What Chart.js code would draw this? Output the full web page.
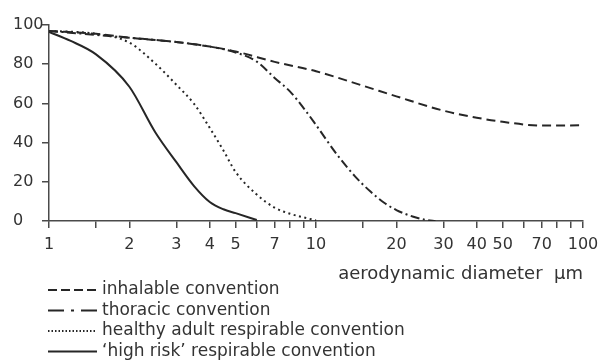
<!DOCTYPE html>
<html>
<head>
<meta charset="utf-8">
<script src="https://cdn.jsdelivr.net/npm/chart.js@4.4.1/dist/chart.umd.min.js"></script>
<style>
  html, body { margin: 0; padding: 0; background: #fff; }
</style>
</head>
<body>
<canvas id="sizeChart" width="598" height="361"></canvas>
<script>
// aerodynamic diameter (um) -> percentage collected, one pair of arrays per convention
const inhalableD = [1, 1.5, 2, 3, 4, 5, 7, 10, 15, 20, 30, 40, 50, 70, 100];
const inhalableE = [97, 95.5, 93.5, 91.3, 89, 86.5, 81.2, 76.4, 69, 63.6, 56.3, 52.7, 50.6, 48.7, 48.8];

const thoracicD = [1, 2, 3, 4, 5, 6, 7, 8, 9, 10, 12, 14, 16, 18, 20, 23, 26, 28];
const thoracicE = [97, 93.5, 91.3, 89, 86, 81.3, 73, 66, 57.5, 49, 33.8, 22.8, 15, 9.3, 5.6, 2.3, 0.5, 0];

const healthyD = [1, 1.5, 2, 2.5, 3, 3.5, 4, 4.5, 5, 6, 7, 8, 10];
const healthyE = [97, 95.5, 91, 80.3, 69.5, 59.6, 47.5, 36, 25, 13.5, 6.8, 3.7, 0.3];

const highRiskD = [1, 1.2, 1.5, 2, 2.5, 3, 3.5, 4, 4.5, 5, 6];
const highRiskE = [96.5, 92, 85, 68.5, 45.3, 30, 17.7, 9.7, 6, 4, 0.5];

const seriesLabels = [
  'inhalable convention',
  'thoracic convention',
  'healthy adult respirable convention',
  '\u2018high risk\u2019 respirable convention'
];

// tick marks on the log axis; only some of them get a number
const xTickValues = [1, 1.5, 2, 3, 4, 5, 6, 7, 8, 9, 10, 15, 20, 30, 40, 50, 60, 70, 80, 90, 100];
const xTickLabels = [1, 2, 3, 4, 5, 7, 10, 20, 30, 40, 50, 70, 100];
const yTickValues = [0, 20, 40, 60, 80, 100];

const inkColor = '#262626';
const axisColor = '#4a4a4a';
const textColor = '#333';
const fontFamily = '"DejaVu Sans", sans-serif';

const toPoints = (xs, ys) => xs.map((x, i) => ({ x: x, y: ys[i] }));

const lineStyle = {
  borderColor: inkColor,
  borderWidth: 2,
  pointRadius: 0,
  fill: false,
  cubicInterpolationMode: 'monotone'
};

// legend drawn as a column under the axis title, sample line + text
const conventionLegend = {
  id: 'conventionLegend',
  afterDraw(chart) {
    const { ctx, chartArea } = chart;
    const x0 = 48, x1 = 97;
    let y = chartArea.bottom + 69;
    ctx.save();
    ctx.font = '17px ' + fontFamily;
    ctx.textBaseline = 'middle';
    ctx.textAlign = 'left';
    ctx.fillStyle = textColor;
    chart.data.datasets.forEach(ds => {
      ctx.beginPath();
      ctx.setLineDash(ds.legendDash || []);
      ctx.lineWidth = ds.borderWidth;
      ctx.strokeStyle = ds.borderColor;
      ctx.moveTo(x0, y);
      ctx.lineTo(x1, y);
      ctx.stroke();
      ctx.fillText(ds.label, x1 + 5, y);
      y += 20.5;
    });
    ctx.restore();
  }
};

const data = {
  datasets: [
    Object.assign({}, lineStyle, {
      label: seriesLabels[0],
      data: toPoints(inhalableD, inhalableE),
      borderDash: [9, 5],
      legendDash: [9, 4]
    }),
    Object.assign({}, lineStyle, {
      label: seriesLabels[1],
      data: toPoints(thoracicD, thoracicE),
      borderDash: [9, 3.5, 2, 3.5],
      legendDash: [16, 7, 3, 7]
    }),
    Object.assign({}, lineStyle, {
      label: seriesLabels[2],
      data: toPoints(healthyD, healthyE),
      borderDash: [2, 3.5],
      legendDash: [1.5, 2]
    }),
    Object.assign({}, lineStyle, {
      label: seriesLabels[3],
      data: toPoints(highRiskD, highRiskE),
      legendDash: []
    })
  ]
};

const config = {
  type: 'line',
  data: data,
  plugins: [conventionLegend],
  options: {
    responsive: false,
    animation: false,
    layout: { padding: { left: 13, right: 15, top: 25, bottom: 76 } },
    plugins: {
      legend: { display: false },
      tooltip: { enabled: false }
    },
    scales: {
      x: {
        type: 'logarithmic',
        min: 1,
        max: 100,
        afterBuildTicks: scale => {
          scale.ticks = xTickValues.map(v => ({ value: v }));
        },
        afterFit: scale => {
          // keep the plot edges fixed, the end labels may hang over
          scale.height = 64;
          scale.paddingLeft = 0;
          scale.paddingRight = 0;
        },
        ticks: {
          autoSkip: false,
          maxRotation: 0,
          padding: 7,
          color: textColor,
          font: { family: fontFamily, size: 16 },
          callback: value => xTickLabels.includes(value) ? String(value) : ''
        },
        grid: {
          drawOnChartArea: false,
          drawTicks: true,
          tickLength: 7,
          color: axisColor,
          lineWidth: 1.5
        },
        border: { color: axisColor, width: 1.5 },
        title: {
          display: true,
          text: 'aerodynamic diameter  \u03bcm',
          align: 'end',
          color: textColor,
          padding: 0,
          font: { family: fontFamily, size: 18 }
        }
      },
      y: {
        type: 'linear',
        min: 0,
        max: 100,
        afterBuildTicks: scale => {
          scale.ticks = yTickValues.map(v => ({ value: v }));
        },
        afterFit: scale => { scale.width = 36; },
        ticks: {
          crossAlign: 'far',
          color: textColor,
          font: { family: fontFamily, size: 16 }
        },
        grid: {
          drawOnChartArea: false,
          drawTicks: true,
          tickLength: 7,
          color: axisColor,
          lineWidth: 1.5
        },
        border: { color: axisColor, width: 1.5 }
      }
    }
  }
};

const sizeChart = new Chart(document.getElementById('sizeChart'), config);
</script>
</body>
</html>
